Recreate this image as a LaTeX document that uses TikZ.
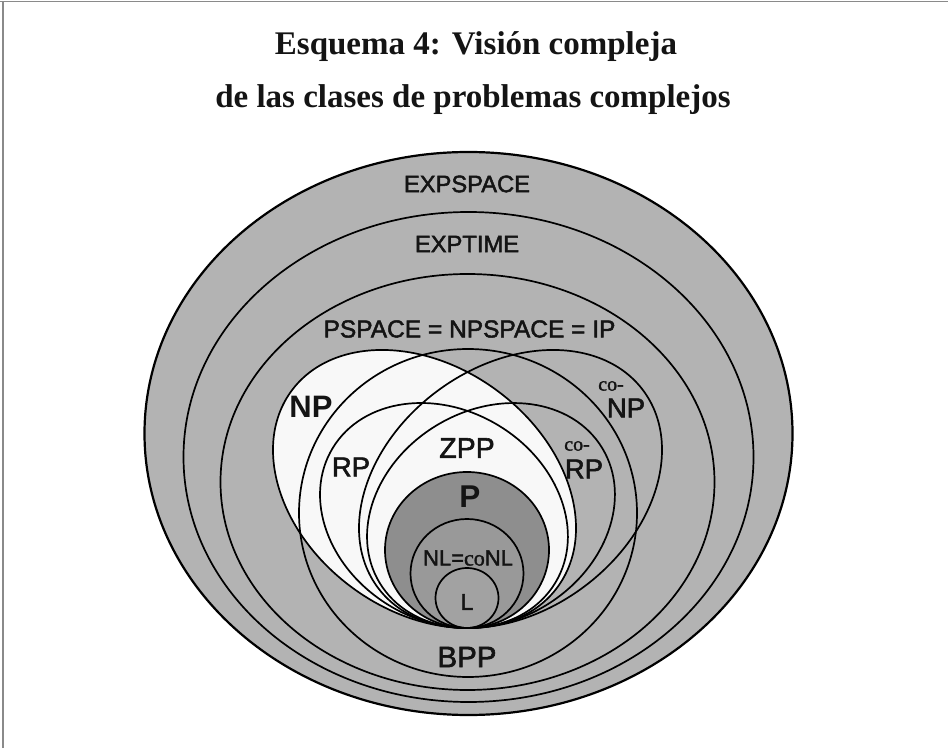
\documentclass[tikz,border=0pt]{standalone}
\usepackage{fontspec}
\setmainfont{Liberation Serif}
\newfontfamily\labfont[FakeBold=2]{Liberation Sans}
\newfontfamily\labplain{Liberation Sans}
\newfontfamily\cofont[FakeBold=1.5]{Liberation Serif}
\definecolor{ring}{HTML}{B3B3B3}
\definecolor{pfill}{HTML}{8E8E8E}
\definecolor{nlfill}{HTML}{999999}
\definecolor{lfill}{HTML}{A2A2A2}
\definecolor{npfill}{HTML}{F8F8F8}
\definecolor{framecol}{HTML}{8A8A8A}
\definecolor{ink}{HTML}{141414}
\begin{document}
\begin{tikzpicture}[x=1pt,y=1pt,
  lbl/.style={inner sep=0pt,text=ink,font=\labfont},
  outline/.style={draw=black,line width=1.7pt},
  titletext/.style={inner sep=0pt,text=ink,font=\bfseries\fontsize{33}{38}\selectfont,anchor=base}]
\useasboundingbox (0,0) rectangle (948,748);
\fill[white] (0,0) rectangle (948,748);
% frame (top and left)
\draw[framecol,line width=1.5pt] (0,746.5) -- (948,746.5);
\draw[framecol,line width=1.5pt] (3.2,0) -- (3.2,746.5);
% title
\node[titletext] (t1) at (476,693) {Esquema 4: Visión compleja};
\node[titletext] (t2) at (473,640) {de las clases de problemas complejos};
% centres
\coordinate (cEXS) at (468.5,314.5);
\coordinate (cEXT) at (468.5,291);
\coordinate (cPS) at (467.5,266);
\coordinate (cBPP) at (468,235);
\coordinate (cNP) at (424.5,259);
\coordinate (cCNP) at (510.5,259);
\coordinate (cRP) at (444,232.5);
\coordinate (cCRP) at (491,232.5);
\coordinate (cP) at (467,198);
\coordinate (cNL) at (467,174.5);
\coordinate (cL) at (467,150);
% fills
\fill[ring] (cEXS) ellipse [x radius=324pt,y radius=281.5pt];
\fill[npfill,rotate around={-36.5:(cNP)}] (cNP) ellipse [x radius=165.3pt,y radius=122.3pt];
\fill[pfill] (cP) ellipse [x radius=82pt,y radius=78pt];
\fill[nlfill] (cNL) ellipse [x radius=56.5pt,y radius=54.5pt];
\fill[lfill] (cL) ellipse [x radius=31.5pt,y radius=30pt];
% outlines
\draw[outline,line width=2.2pt] (cEXS) ellipse [x radius=324pt,y radius=281.5pt];
\draw[outline] (cEXT) ellipse [x radius=285pt,y radius=245pt];
\draw[outline] (cPS) ellipse [x radius=247pt,y radius=208pt];
\draw[outline] (cBPP) ellipse [x radius=169pt,y radius=164pt];
\draw[outline,rotate around={-36.5:(cNP)}] (cNP) ellipse [x radius=165.3pt,y radius=122.3pt];
\draw[outline,rotate around={36.5:(cCNP)}] (cCNP) ellipse [x radius=165.3pt,y radius=122.3pt];
\draw[outline,rotate around={-31.2:(cRP)}] (cRP) ellipse [x radius=130.1pt,y radius=105.3pt];
\draw[outline,rotate around={31.2:(cCRP)}] (cCRP) ellipse [x radius=130.1pt,y radius=105.3pt];
\draw[outline] (cP) ellipse [x radius=82pt,y radius=78pt];
\draw[outline] (cNL) ellipse [x radius=56.5pt,y radius=54.5pt];
\draw[outline] (cL) ellipse [x radius=31.5pt,y radius=30pt];
% labels
\node[lbl,font=\labfont\fontsize{23.7}{28}\selectfont] (lexs) at (467,564) {EXPSPACE};
\node[lbl,font=\labfont\fontsize{23.7}{28}\selectfont] (lext) at (467,504) {EXPTIME};
\node[lbl,font=\labfont\fontsize{24.5}{28}\selectfont] (lps) at (469.5,419) {PSPACE = NPSPACE = IP};
\node[lbl,font=\labplain\bfseries\fontsize{31}{34}\selectfont] (lnp) at (311,341) {NP};
\node[lbl,font=\cofont\fontsize{20}{22}\selectfont] (lconp1) at (611,362) {co-};
\node[lbl,font=\labfont\fontsize{27.5}{30}\selectfont] (lconp2) at (626,340) {NP};
\node[lbl,font=\labfont\fontsize{27.4}{30}\selectfont] (lrp) at (351,281) {RP};
\node[lbl,font=\cofont\fontsize{20}{22}\selectfont] (lcorp1) at (577,302) {co-};
\node[lbl,font=\labfont\fontsize{27.4}{30}\selectfont] (lcorp2) at (584,279) {RP};
\node[lbl,font=\labfont\fontsize{28.5}{30}\selectfont] (lzpp) at (467,300) {ZPP};
\node[lbl,font=\labplain\bfseries\fontsize{31.5}{34}\selectfont] (lp) at (470,251) {P};
\node[lbl,font=\labfont\fontsize{22}{24}\selectfont] (lnl) at (468,190) {NL={\cofont co}NL};
\node[lbl,font=\labfont\fontsize{23}{26}\selectfont] (ll) at (467,146) {L};
\node[lbl,font=\labfont\fontsize{29.5}{32}\selectfont] (lbpp) at (467,91) {BPP};
\end{tikzpicture}
\end{document}
